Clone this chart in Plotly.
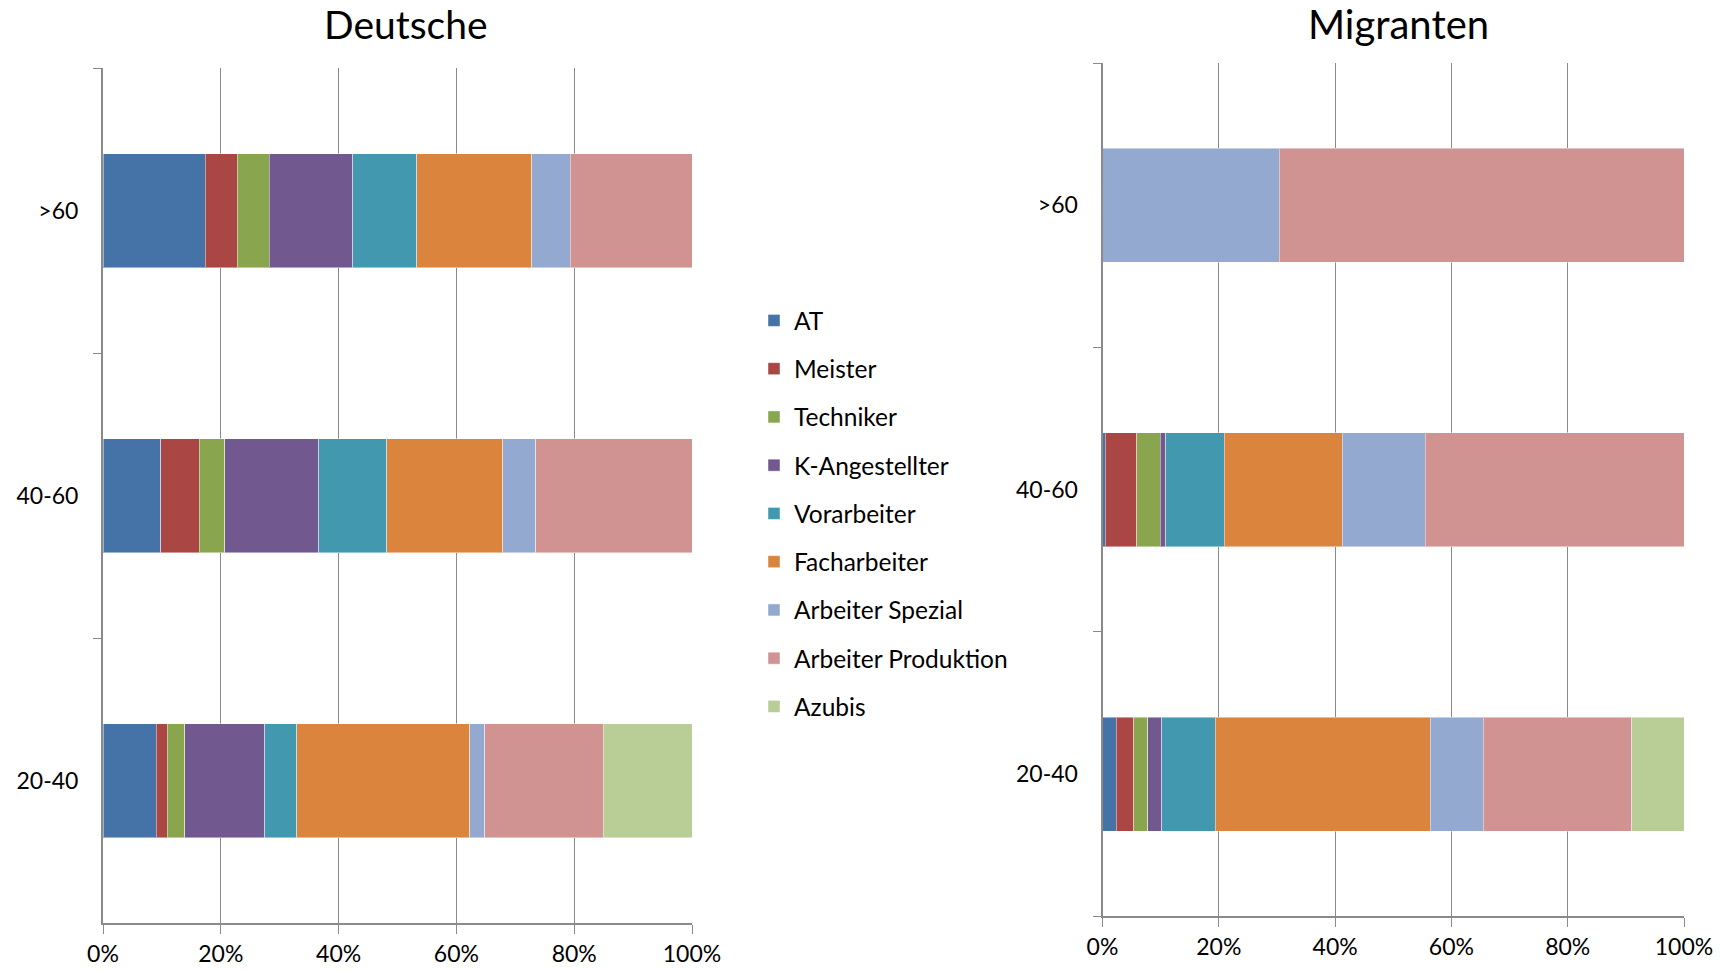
import plotly.graph_objects as go

categories = ["20-40", "40-60", ">60"]
series = ["AT", "Meister", "Techniker", "K-Angestellter", "Vorarbeiter",
          "Facharbeiter", "Arbeiter Spezial", "Arbeiter Produktion", "Azubis"]
colors = ["#4572A7", "#AA4643", "#89A54E", "#71588F", "#4198AF",
          "#DB843D", "#93A9CF", "#D19392", "#B9CD96"]

# values in percent per category [20-40, 40-60, >60]
deutsche = {
    "AT": [9.0, 9.8, 17.4],
    "Meister": [1.9, 6.5, 5.4],
    "Techniker": [3.0, 4.4, 5.4],
    "K-Angestellter": [13.6, 15.9, 14.2],
    "Vorarbeiter": [5.4, 11.6, 10.9],
    "Facharbeiter": [29.4, 19.7, 19.5],
    "Arbeiter Spezial": [2.5, 5.6, 6.5],
    "Arbeiter Produktion": [20.1, 26.5, 20.7],
    "Azubis": [15.1, 0.0, 0.0],
}
migranten = {
    "AT": [2.4, 0.5, 0.0],
    "Meister": [3.0, 5.4, 0.0],
    "Techniker": [2.4, 4.0, 0.0],
    "K-Angestellter": [2.4, 1.0, 0.0],
    "Vorarbeiter": [9.2, 10.0, 0.0],
    "Facharbeiter": [37.0, 20.3, 0.0],
    "Arbeiter Spezial": [9.1, 14.3, 30.4],
    "Arbeiter Produktion": [25.5, 44.5, 69.6],
    "Azubis": [9.0, 0.0, 0.0],
}
x_ticks = [0, 20, 40, 60, 80, 100]
x_ticklabels = ["0%", "20%", "40%", "60%", "80%", "100%"]
titles = ["Deutsche", "Migranten"]

FONT = "Lato, 'Open Sans', sans-serif"
GRID = "#8a8a8a"
W, H = 1727, 971

fig = go.Figure()
for s, c in zip(series, colors):
    fig.add_trace(go.Bar(
        y=categories, x=deutsche[s], name=s, orientation="h",
        marker=dict(color=c, line=dict(color="rgba(255,255,255,0.45)", width=1)),
        legendgroup=s, showlegend=True, xaxis="x", yaxis="y"))
for s, c in zip(series, colors):
    fig.add_trace(go.Bar(
        y=categories, x=migranten[s], name=s, orientation="h",
        marker=dict(color=c, line=dict(color="rgba(255,255,255,0.45)", width=1)),
        legendgroup=s, showlegend=False, xaxis="x2", yaxis="y2"))

xd1 = [103 / W, 692 / W]
xd2 = [1102.5 / W, 1684 / W]
yd1 = [1 - 923 / H, 1 - 68 / H]
yd2 = [1 - 916.4 / H, 1 - 63 / H]

xcommon = dict(range=[0, 100], tickvals=x_ticks, ticktext=x_ticklabels,
               showgrid=True, gridcolor=GRID, gridwidth=1.3,
               showline=True, linecolor=GRID, linewidth=2,
               ticks="outside", ticklen=9, tickcolor=GRID, tickwidth=1.3,
               tickfont=dict(family=FONT, size=23, color="#000"),
               zeroline=False, fixedrange=True, automargin=False)
ycommon = dict(type="category", categoryorder="array", categoryarray=categories,
               showgrid=False, showline=True, linecolor=GRID, linewidth=2,
               ticks="outside", tickson="boundaries", ticklen=8, tickcolor=GRID,
               tickwidth=1.3, tickfont=dict(family=FONT, size=23, color="#000"),
               ticklabelstandoff=18, zeroline=False, fixedrange=True,
               automargin=False)

fig.update_layout(
    width=W, height=H, autosize=False,
    margin=dict(l=0, r=0, t=0, b=0, autoexpand=False),
    paper_bgcolor="white", plot_bgcolor="white",
    barmode="stack", bargap=0.6,
    font=dict(family=FONT, color="#000"),
    xaxis=dict(domain=xd1, anchor="y", **xcommon),
    yaxis=dict(domain=yd1, anchor="x", **ycommon),
    xaxis2=dict(domain=xd2, anchor="y2", **xcommon),
    yaxis2=dict(domain=yd2, anchor="x2", **ycommon),
    legend=dict(x=754 / W, y=1 - 298 / H, xanchor="left", yanchor="top",
                traceorder="grouped", tracegroupgap=13.4,
                font=dict(family=FONT, size=24.5, color="#000"),
                itemwidth=30, bgcolor="rgba(0,0,0,0)"),
    showlegend=True,
    annotations=[
        dict(text=titles[0], x=405.9 / W, y=1 - 24 / H,
             xref="paper", yref="paper", showarrow=False,
             xanchor="center", yanchor="middle",
             font=dict(family=FONT, size=39, color="#000")),
        dict(text=titles[1], x=1398.8 / W, y=1 - 24 / H,
             xref="paper", yref="paper", showarrow=False,
             xanchor="center", yanchor="middle",
             font=dict(family=FONT, size=40, color="#000")),
    ],
)

fig.write_html("out.html", config={"displayModeBar": False},
               post_script="document.body.style.margin='0';document.body.style.overflow='hidden';")
